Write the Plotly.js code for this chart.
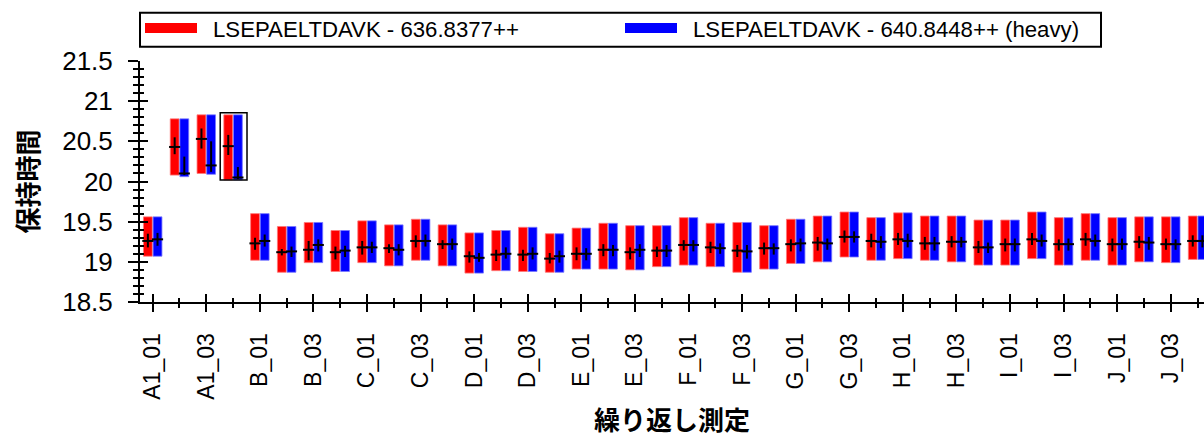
<!DOCTYPE html>
<html>
<head>
<meta charset="utf-8">
<script src="https://cdn.plot.ly/plotly-3.0.1.min.js"></script>
<style>html,body{margin:0;padding:0;background:#fff;}#chart{width:1204px;height:437px;}</style>
</head>
<body>
<div id="chart"></div>
<script>
// Replicate names (x categories)
const replicates = ['A1_01','A1_02','A1_03','A1_04','B_01','B_02','B_03','B_04','C_01','C_02','C_03','C_04',
  'D_01','D_02','D_03','D_04','E_01','E_02','E_03','E_04','F_01','F_02','F_03','F_04','G_01','G_02','G_03','G_04',
  'H_01','H_02','H_03','H_04','I_01','I_02','I_03','I_04','J_01','J_02','J_03','J_04'];
const lightName = 'LSEPAELTDAVK - 636.8377++';
const heavyName = 'LSEPAELTDAVK - 640.8448++ (heavy)';
const selectedReplicate = 'A1_04';

// Peak start / end retention times
const lightStart = [19.07,20.08,20.10,20.02,19.02,18.87,18.99,18.88,18.99,18.95,19.02,18.95,18.86,18.89,18.88,18.87,18.91,18.91,18.90,18.94,
  18.96,18.94,18.87,18.91,18.98,19.00,19.06,19.02,19.04,19.02,19.00,18.96,18.96,19.04,18.96,19.02,18.96,19.00,18.99,19.03];
const lightEnd = [19.56,20.78,20.83,20.83,19.60,19.44,19.49,19.39,19.51,19.46,19.53,19.46,19.36,19.39,19.43,19.35,19.42,19.48,19.45,19.45,
  19.55,19.48,19.49,19.45,19.53,19.57,19.62,19.55,19.61,19.57,19.57,19.52,19.52,19.62,19.55,19.60,19.55,19.56,19.56,19.57];
const heavyStart = [19.07,20.06,20.09,20.02,19.02,18.87,18.99,18.88,18.99,18.95,19.02,18.95,18.86,18.89,18.88,18.87,18.91,18.91,18.90,18.94,
  18.96,18.94,18.87,18.91,18.98,19.00,19.06,19.02,19.04,19.02,19.00,18.96,18.96,19.04,18.96,19.02,18.96,19.00,18.99,19.03];
const heavyEnd = [19.56,20.78,20.83,20.83,19.60,19.44,19.49,19.39,19.51,19.46,19.53,19.46,19.36,19.39,19.43,19.35,19.42,19.48,19.45,19.45,
  19.55,19.48,19.49,19.45,19.53,19.57,19.62,19.55,19.61,19.57,19.57,19.52,19.52,19.62,19.55,19.60,19.55,19.56,19.56,19.57];

// Apex retention times and FWHM bounds
const lightApex = [19.26,20.43,20.53,20.44,19.23,19.12,19.15,19.12,19.18,19.17,19.26,19.22,19.07,19.09,19.09,19.04,19.10,19.15,19.12,19.14,
  19.21,19.18,19.14,19.17,19.22,19.24,19.31,19.26,19.28,19.23,19.25,19.18,19.22,19.28,19.22,19.28,19.22,19.25,19.22,19.26];
const lightFwhmHi = [19.35,20.55,20.66,20.58,19.30,19.16,19.26,19.19,19.26,19.22,19.33,19.27,19.13,19.15,19.15,19.11,19.18,19.22,19.18,19.19,
  19.27,19.25,19.21,19.24,19.28,19.31,19.39,19.35,19.36,19.31,19.32,19.26,19.29,19.36,19.28,19.36,19.29,19.32,19.29,19.33];
const lightFwhmLo = [19.18,20.34,20.41,20.33,19.15,19.08,19.02,19.03,19.09,19.11,19.18,19.16,18.99,19.01,19.01,18.98,19.02,19.07,19.03,19.06,
  19.14,19.11,19.06,19.09,19.13,19.14,19.24,19.18,19.21,19.15,19.18,19.11,19.13,19.21,19.14,19.20,19.13,19.17,19.15,19.19];
const heavyApex = [19.28,20.10,20.20,20.05,19.26,19.13,19.21,19.14,19.18,19.15,19.26,19.22,19.05,19.10,19.10,19.07,19.10,19.15,19.15,19.14,
  19.21,19.17,19.13,19.17,19.23,19.23,19.31,19.25,19.26,19.23,19.25,19.18,19.22,19.26,19.22,19.26,19.22,19.24,19.22,19.26];
const heavyFwhmHi = [19.36,20.31,20.50,20.18,19.34,19.19,19.28,19.20,19.25,19.22,19.34,19.29,19.11,19.18,19.18,19.14,19.17,19.21,19.22,19.21,
  19.27,19.23,19.21,19.23,19.29,19.29,19.38,19.32,19.35,19.31,19.31,19.24,19.29,19.34,19.29,19.34,19.29,19.31,19.28,19.33];
const heavyFwhmLo = [19.20,20.08,20.12,20.03,19.19,19.06,19.13,19.06,19.11,19.08,19.19,19.15,19.00,19.04,19.03,18.99,19.02,19.07,19.06,19.06,
  19.13,19.10,19.04,19.09,19.13,19.15,19.24,19.17,19.18,19.14,19.18,19.11,19.13,19.19,19.14,19.19,19.15,19.15,19.15,19.18];

// ---- build traces ----
const idx = replicates.map((_, i) => i);
const BW = 0.33, OFF_L = -0.345, OFF_H = 0.015;
const cL = OFF_L + BW / 2, cH = OFF_H + BW / 2;

function barTrace(start, end, color, edge, off, name) {
  return {
    type: 'bar', x: idx, base: start, y: end.map((e, i) => e - start[i]),
    width: BW, offset: off, name: name, showlegend: false,
    marker: { color: color, line: { color: edge, width: 1 } },
    hoverinfo: 'skip'
  };
}
function crossTrace(apex, lo, hi, center) {
  return {
    type: 'scatter', mode: 'markers', x: idx.map(i => i + center), y: apex, showlegend: false,
    marker: { symbol: 'line-ew', size: 8, color: '#000', line: { color: '#000', width: 2 } },
    error_y: { type: 'data', symmetric: false, array: hi.map((h, i) => h - apex[i]),
      arrayminus: apex.map((a, i) => a - lo[i]), color: '#000', thickness: 2, width: 0 },
    hoverinfo: 'skip'
  };
}
function legendTrace(color, name) {
  // legend swatch: a thick line, dashed so the swatch stops short of the label
  return { type: 'scatter', mode: 'lines', x: [null], y: [null], name: name,
    line: { color: color, width: 13, dash: '52px,400px' }, hoverinfo: 'skip' };
}

const data = [
  barTrace(lightStart, lightEnd, '#ff0000', 'rgba(255,120,120,0.8)', OFF_L, lightName),
  barTrace(heavyStart, heavyEnd, '#0000ff', 'rgba(120,120,255,0.8)', OFF_H, heavyName),
  crossTrace(lightApex, lightFwhmLo, lightFwhmHi, cL),
  crossTrace(heavyApex, heavyFwhmLo, heavyFwhmHi, cH),
  legendTrace('#ff0000', lightName),
  legendTrace('#0000ff', heavyName),
  { type: 'scatter', x: [null], y: [null], xaxis: 'x2', yaxis: 'y2', showlegend: false, hoverinfo: 'skip' }
];

const majorX = idx.filter(i => i % 2 === 0);
const xRange = [-0.474, 39.24];
const yRange = [18.5, 21.5];
const FONT = 'Liberation Sans, Arial, sans-serif';

const sel = replicates.indexOf(selectedReplicate);
const selLo = Math.min(lightStart[sel], heavyStart[sel]);
const selHi = Math.max(lightEnd[sel], heavyEnd[sel]);

const layout = {
  width: 1204, height: 437,
  margin: { l: 140, r: 0, t: 61, b: 135 },
  paper_bgcolor: '#fff', plot_bgcolor: '#fff',
  font: { family: FONT, color: '#000' },
  barmode: 'overlay',
  showlegend: true,
  legend: {
    orientation: 'h', x: 0, xanchor: 'left', y: 1.224, yanchor: 'top',
    borderwidth: 0, bgcolor: 'rgba(0,0,0,0)',
    font: { family: FONT, size: 22.2, color: '#000' },
    itemwidth: 63, entrywidth: 402, entrywidthmode: 'pixels',
    traceorder: 'normal'
  },
  xaxis: {
    range: xRange, tickmode: 'array', tickvals: majorX, ticktext: majorX.map(i => replicates[i]),
    tickangle: -90, ticks: 'outside', ticklen: 8, tickwidth: 2, tickcolor: '#000',
    ticklabelstandoff: 12,
    minor: { tickmode: 'array', tickvals: idx, ticks: 'outside', ticklen: 4, tickwidth: 2, tickcolor: '#000', showgrid: false },
    showline: true, linecolor: '#000', linewidth: 2, showgrid: false, zeroline: false,
    tickfont: { family: FONT, size: 23, color: '#000' },
    title: { text: '繰り返し測定', standoff: 16,
      font: { family: 'Noto Sans CJK JP, sans-serif', size: 26, weight: 'bold', color: '#000' } },
    fixedrange: true
  },
  yaxis: {
    range: yRange, tickmode: 'linear', tick0: 18.5, dtick: 0.5,
    ticks: 'outside', ticklen: 10, tickwidth: 2, tickcolor: '#000',
    ticklabelstandoff: 10,
    minor: { tickmode: 'linear', dtick: 0.1, ticks: 'outside', ticklen: 5, tickwidth: 2, tickcolor: '#000', showgrid: false },
    showline: true, linecolor: '#000', linewidth: 2, showgrid: false, zeroline: false,
    tickfont: { family: FONT, size: 26, color: '#000' },
    title: { text: '保持時間', standoff: 16,
      font: { family: 'Noto Sans CJK JP, sans-serif', size: 26, weight: 'bold', color: '#000' } },
    fixedrange: true
  },
  xaxis2: {
    overlaying: 'x', anchor: 'y2', side: 'bottom', range: xRange,
    tickmode: 'array', tickvals: majorX, showticklabels: false,
    ticks: 'inside', ticklen: 8, tickwidth: 2, tickcolor: '#000',
    minor: { tickmode: 'array', tickvals: idx, ticks: 'inside', ticklen: 4, tickwidth: 2, tickcolor: '#000', showgrid: false },
    showline: false, showgrid: false, zeroline: false, fixedrange: true
  },
  yaxis2: {
    overlaying: 'y', anchor: 'x2', side: 'left', range: yRange,
    tickmode: 'linear', tick0: 18.5, dtick: 0.5, showticklabels: false,
    ticks: 'inside', ticklen: 8, tickwidth: 2, tickcolor: '#000',
    minor: { tickmode: 'linear', dtick: 0.1, ticks: 'inside', ticklen: 4, tickwidth: 2, tickcolor: '#000', showgrid: false },
    showline: false, showgrid: false, zeroline: false, fixedrange: true
  },
  shapes: [
    { // selected replicate highlight
      type: 'rect', xref: 'x', yref: 'y', layer: 'above',
      x0: sel - 0.48, x1: sel + 0.52, y0: selLo, y1: selHi + 0.025,
      line: { color: '#000', width: 1.5 }, fillcolor: 'rgba(0,0,0,0)'
    },
    { // legend frame
      type: 'rect', xref: 'paper', yref: 'paper', layer: 'above',
      x0: 0, x1: 0.9032, y0: 1.0593, y1: 1.2004,
      line: { color: '#000', width: 2 }, fillcolor: 'rgba(0,0,0,0)'
    }
  ]
};

Plotly.newPlot('chart', data, layout, { displayModeBar: false, staticPlot: true });
</script>
</body>
</html>
